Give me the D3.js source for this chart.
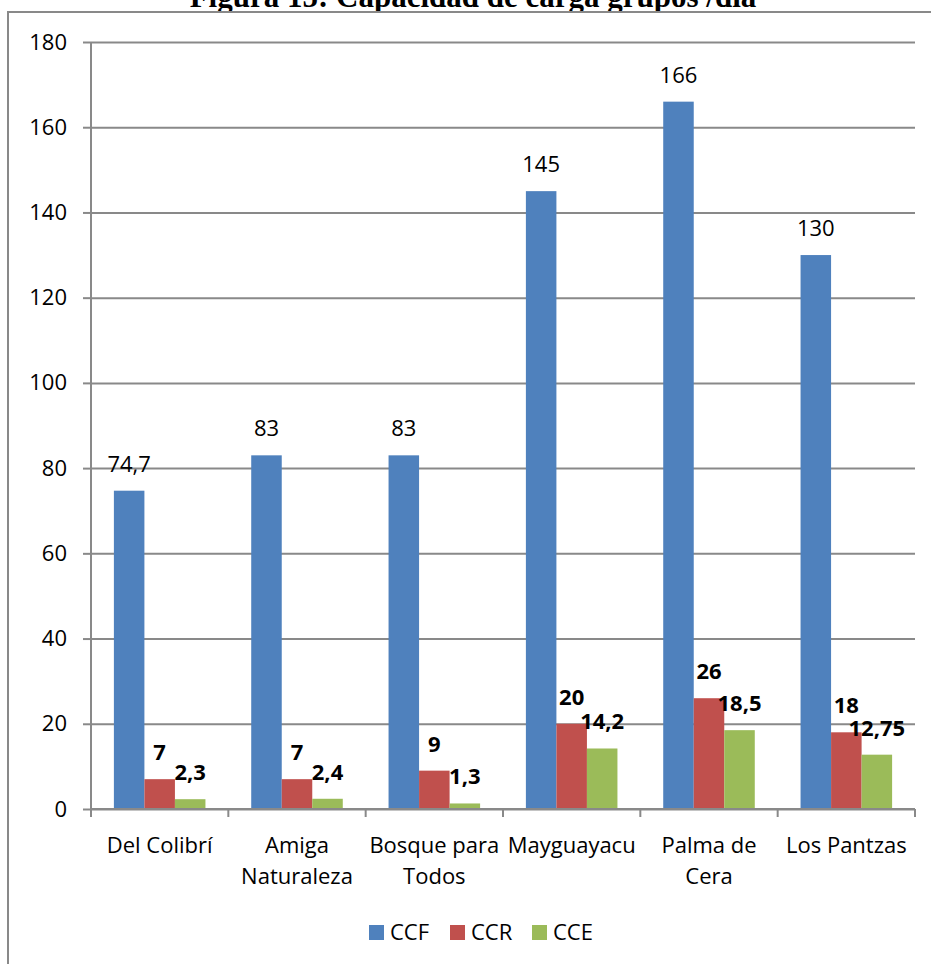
<!DOCTYPE html>
<html>
<head>
<meta charset="utf-8">
<script src="https://cdn.jsdelivr.net/npm/d3@7"></script>
<style>
  body { margin: 0; background: #fff; }
  text { font-family: "Open Sans", "Noto Sans", sans-serif; fill: #000; }
</style>
</head>
<body>
<div class="chart"></div>
<script>
var svgWidth = 931;
var svgHeight = 964;

// data
var categories = ["Del Colibrí", "Amiga Naturaleza", "Bosque para Todos", "Mayguayacu", "Palma de Cera", "Los Pantzas"];
var categoryLines = [["Del Colibrí"], ["Amiga", "Naturaleza"], ["Bosque para", "Todos"], ["Mayguayacu"], ["Palma de", "Cera"], ["Los Pantzas"]];
var seriesNames = ["CCF", "CCR", "CCE"];
var ccf = [74.7, 83, 83, 145, 166, 130];
var ccr = [7, 7, 9, 20, 26, 18];
var cce = [2.3, 2.4, 1.3, 14.2, 18.5, 12.75];
var yTicks = [0, 20, 40, 60, 80, 100, 120, 140, 160, 180];
var colors = ["#4F81BD", "#C0504D", "#9BBB59"];

var seriesValues = [ccf, ccr, cce];

var margin = { top: 42, left: 91, right: 16, bottom: 155 };
var width = svgWidth - margin.left - margin.right;   // 824
var height = svgHeight - margin.top - margin.bottom; // 767

var svg = d3.select(".chart").append("svg")
  .attr("width", svgWidth)
  .attr("height", svgHeight);

// title, partly hidden behind the chart box
svg.append("text")
  .attr("x", 473)
  .attr("y", 7)
  .attr("text-anchor", "middle")
  .style("font-family", "'Liberation Serif', 'Times New Roman', serif")
  .style("font-weight", "bold")
  .style("font-size", "31px")
  .text("Figura 15: Capacidad de carga grupos /día");

// outer chart box
svg.append("rect")
  .attr("x", 8)
  .attr("y", 12)
  .attr("width", 940)
  .attr("height", 970)
  .attr("fill", "#fff")
  .attr("stroke", "#898989")
  .attr("stroke-width", 2);

var chartGroup = svg.append("g")
  .attr("transform", `translate(${margin.left}, ${margin.top})`);

var y = d3.scaleLinear().domain([0, 180]).range([height, 0]);
var x0 = d3.scaleBand().domain(categories).range([0, width]).padding(0);
var x1 = d3.scaleBand().domain(seriesNames).range([0, x0.bandwidth()])
  .paddingInner(0).paddingOuter(0.75);

// gridlines
var grid = chartGroup.append("g")
  .call(d3.axisLeft(y).tickValues(yTicks).tickSize(-width).tickFormat(""));
grid.select(".domain").remove();
grid.selectAll("line").attr("stroke", "#898989").attr("stroke-width", 2);

// y axis
var yAxis = chartGroup.append("g")
  .call(d3.axisLeft(y).tickValues(yTicks).tickSize(8).tickPadding(16));
yAxis.select(".domain").attr("stroke", "#898989").attr("stroke-width", 2)
  .attr("d", `M0,${height}V0`);
yAxis.selectAll("line").attr("stroke", "#898989").attr("stroke-width", 2);
yAxis.selectAll("text").style("font-size", "22px").attr("fill", "#000")
  .style("font-family", "'Open Sans', sans-serif");

// bars
var groups = chartGroup.selectAll(".cat")
  .data(categories)
  .enter()
  .append("g")
  .attr("transform", d => `translate(${x0(d)},0)`);

groups.selectAll("rect")
  .data((d, i) => seriesNames.map((s, j) => ({ s: s, v: seriesValues[j][i], j: j })))
  .enter()
  .append("rect")
  .attr("x", d => x1(d.s))
  .attr("y", d => y(d.v))
  .attr("width", x1.bandwidth())
  .attr("height", d => height - y(d.v))
  .attr("fill", d => colors[d.j]);

// x axis line and boundary ticks
chartGroup.append("line")
  .attr("x1", 0).attr("x2", width)
  .attr("y1", height).attr("y2", height)
  .attr("stroke", "#898989").attr("stroke-width", 2);

var bounds = categories.map(c => x0(c)).concat([width]);
chartGroup.selectAll(".xtick")
  .data(bounds)
  .enter()
  .append("line")
  .attr("x1", d => d).attr("x2", d => d)
  .attr("y1", height).attr("y2", height + 8)
  .attr("stroke", "#898989").attr("stroke-width", 2);

// category labels
var xLabels = chartGroup.selectAll(".xlabel")
  .data(categories)
  .enter()
  .append("text")
  .attr("text-anchor", "middle")
  .attr("transform", d => `translate(${x0(d) + x0.bandwidth() / 2}, ${height + 44})`)
  .style("font-size", "22px");

xLabels.each(function(d, i) {
  var t = d3.select(this);
  categoryLines[i].forEach(function(line, k) {
    t.append("tspan").attr("x", 0).attr("y", k * 31).text(line);
  });
});

// value labels
groups.selectAll(".vlabel")
  .data((d, i) => seriesNames.map((s, j) => ({ s: s, v: seriesValues[j][i], j: j })))
  .enter()
  .append("text")
  .attr("text-anchor", "middle")
  .attr("x", d => x1(d.s) + x1.bandwidth() / 2)
  .attr("y", d => y(d.v) - 19)
  .style("font-size", "22px")
  .style("font-weight", d => d.j === 0 ? "normal" : "bold")
  .text(d => String(d.v).replace(".", ","));

// legend
var legendX = [369, 450, 532];
var legend = svg.selectAll(".legend")
  .data(seriesNames)
  .enter()
  .append("g")
  .attr("transform", (d, i) => `translate(${legendX[i]}, 925)`);

legend.append("rect")
  .attr("width", 15).attr("height", 15)
  .attr("fill", (d, i) => colors[i]);

legend.append("text")
  .attr("x", 21).attr("y", 15)
  .style("font-size", "22px")
  .text(d => d);
</script>
</body>
</html>
